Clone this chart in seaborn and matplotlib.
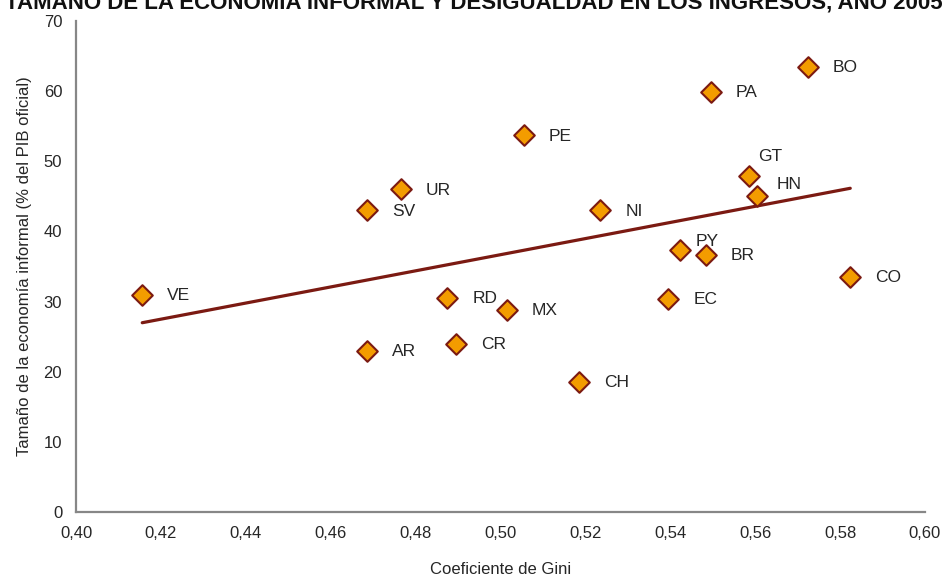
import matplotlib
matplotlib.use("Agg")
import matplotlib.pyplot as plt
import matplotlib.ticker as mticker
import seaborn as sns
import pandas as pd

# datos
paises = ["VE", "SV", "UR", "AR", "RD", "CR", "MX", "CH", "NI", "PE",
          "PY", "BR", "EC", "PA", "GT", "HN", "BO", "CO"]
gini = [0.4156, 0.4686, 0.4765, 0.4686, 0.4875, 0.4895, 0.5015, 0.5185, 0.5235, 0.5055,
        0.5424, 0.5484, 0.5395, 0.5495, 0.5585, 0.5604, 0.5724, 0.5824]
informal = [30.9, 43.0, 46.0, 23.0, 30.5, 24.0, 28.8, 18.6, 43.0, 53.7,
            37.4, 36.6, 30.4, 59.9, 47.9, 45.1, 63.5, 33.5]

# desplazamiento de las etiquetas (puntos), casi todas a la derecha
offsets = {"GT": (7, 14), "HN": (14, 8), "PY": (11, 6)}

df = pd.DataFrame({"pais": paises, "gini": gini, "informal": informal})

sns.set_style("white")
plt.rcParams["font.family"] = ["Liberation Sans", "DejaVu Sans"]

fig = plt.figure(figsize=(9.48, 5.79), dpi=100)
ax = fig.add_axes([0.0802, 0.1157, 0.8955, 0.848])

sns.regplot(data=df, x="gini", y="informal", scatter=False, ci=None, ax=ax,
            line_kws={"color": "#7B1A12", "linewidth": 2.3})
sns.scatterplot(data=df, x="gini", y="informal", marker="D", s=110, ax=ax,
                color="#F39C00", edgecolor="#7B1A12", linewidth=1.5, zorder=3)

for p, x, y in zip(paises, gini, informal):
    dx, dy = offsets.get(p, (18, -0.5))
    ax.annotate(p, (x, y), xytext=(dx, dy), textcoords="offset points",
                ha="left", va="center", fontsize=12.5, color="#262626")

ax.set_xlim(0.40, 0.60)
ax.set_ylim(0, 70)
ax.xaxis.set_major_locator(mticker.MultipleLocator(0.02))
ax.yaxis.set_major_locator(mticker.MultipleLocator(10))
ax.xaxis.set_major_formatter(mticker.FuncFormatter(lambda v, p: f"{v:.2f}".replace(".", ",")))

for s in ["top", "right"]:
    ax.spines[s].set_visible(False)
for s in ["left", "bottom"]:
    ax.spines[s].set_color("#878787")
    ax.spines[s].set_linewidth(1.6)
ax.tick_params(axis="both", direction="out", length=4, width=1.3, color="#878787",
               labelsize=12, labelcolor="#262626", pad=6)

ax.set_xlabel("Coeficiente de Gini", fontsize=12, color="#262626", labelpad=15)
ax.set_ylabel("Tamaño de la economía informal (% del PIB oficial)", fontsize=12,
              color="#262626", labelpad=8)

# el titulo aparece recortado en el borde superior, igual que en el original
fig.text(0.5, 1 - 8 / 579,
         "TAMAÑO DE LA ECONOMÍA INFORMAL Y DESIGUALDAD EN LOS INGRESOS, AÑO 2005",
         ha="center", va="baseline", fontsize=16, fontweight="bold", color="#111111")

fig.savefig("out.png", dpi=100)
